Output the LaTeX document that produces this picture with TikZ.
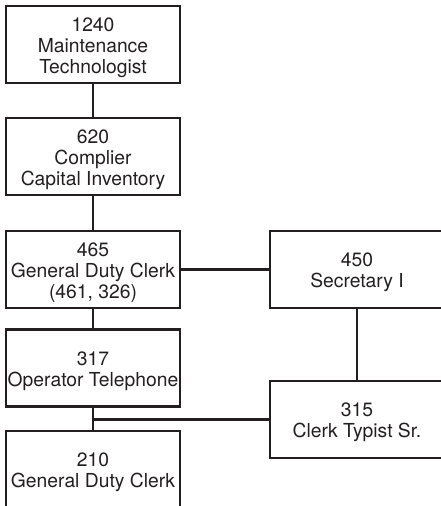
\documentclass[tikz,border=0pt]{standalone}
\usepackage{fontspec}
\setmainfont{TeX Gyre Heros}
\definecolor{ink}{HTML}{231F20}
% extra room above the first line sets the text slightly low in its box
\newcommand\leadpad{\rule{0pt}{20pt}}
\begin{document}
\begin{tikzpicture}[x=1pt,y=-1pt,
  post/.style={draw=ink,line width=2.3pt,rectangle,minimum width=174pt,minimum height=77pt,
    inner sep=1pt,align=center,text=ink,font=\fontsize{19.3}{21}\selectfont},
  link/.style={draw=ink,line width=2.3pt}]
\useasboundingbox (0,0) rectangle (440,506);
% left column
\node[post] (tech)  at (93,44.5)  {\leadpad 1240\\Maintenance\\Technologist};
\node[post] (comp)  at (93,156.5) {\leadpad 620\\Complier\\Capital Inventory};
\node[post] (gdc)   at (93,269.5) {\leadpad 465\\General Duty Clerk\\(461, 326)};
\node[post] (oper)  at (93,368)   {\leadpad 317\\Operator Telephone};
\node[post] (gdc2)  at (93,469.5) {\leadpad 210\\General Duty Clerk};
% right column
\node[post] (sec)   at (357,269.5) {\leadpad 450\\Secretary I};
\node[post] (typist) at (357,419.5) {\leadpad 315\\Clerk Typist Sr.};
% connectors
\draw[link] (tech) -- (comp);
\draw[link] (comp) -- (gdc);
\draw[link] (gdc) -- (oper);
\draw[link] (oper) -- (gdc2);
\draw[link] (gdc) -- (sec);
\draw[link] (sec) -- (typist);
\draw[link] (typist.west) -- (typist.west -| oper.south);
\end{tikzpicture}
\end{document}
